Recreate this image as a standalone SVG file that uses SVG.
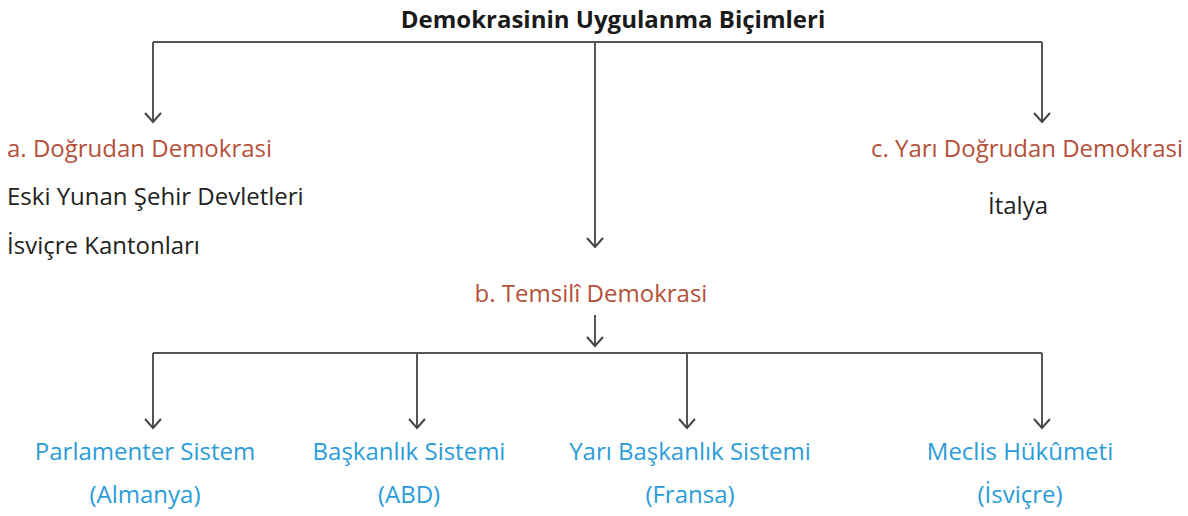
<svg xmlns="http://www.w3.org/2000/svg" width="1188" height="516" viewBox="0 0 1188 516">
<style>
text{font-family:"Open Sans","Liberation Sans",sans-serif;font-size:24px}
.t{font-weight:bold;fill:#1a1a1a;font-size:24px}
.r{fill:#b5503a}
.k{fill:#222}
.b{fill:#2b9cd8}
.c{text-anchor:middle}
.l{fill:none;stroke:#555;stroke-width:2}
</style>
<defs>
<marker id="ah" markerWidth="20" markerHeight="20" refX="10" refY="10" orient="auto" markerUnits="userSpaceOnUse">
<path d="M1,2 L10,10 L1,18" fill="none" stroke="#444" stroke-width="2"/>
</marker>
</defs>
<g id="title"><text class="t c" x="613" y="28">Demokrasinin Uygulanma Biçimleri</text></g>
<g id="nodeA"><text class="r" x="7" y="157">a. Doğrudan Demokrasi</text>
<text class="k" x="7" y="205">Eski Yunan Şehir Devletleri</text>
<text class="k" x="7" y="254">İsviçre Kantonları</text></g>
<g id="nodeC"><text class="r" x="1183" y="157" text-anchor="end">c. Yarı Doğrudan Demokrasi</text>
<text class="k c" x="1018" y="214">İtalya</text></g>
<g id="nodeB"><text class="r c" x="591" y="302">b. Temsilî Demokrasi</text></g>
<g id="n1"><text class="b c" x="145" y="460">Parlamenter Sistem</text><text class="b c" x="145" y="503">(Almanya)</text></g>
<g id="n2"><text class="b c" x="409" y="460">Başkanlık Sistemi</text><text class="b c" x="409" y="503">(ABD)</text></g>
<g id="n3"><text class="b c" x="690" y="460">Yarı Başkanlık Sistemi</text><text class="b c" x="690" y="503">(Fransa)</text></g>
<g id="n4"><text class="b c" x="1020" y="460">Meclis Hükûmeti</text><text class="b c" x="1020" y="503">(İsviçre)</text></g>
<g id="connectors">
<path class="l" d="M153,42 H1042"/>
<path class="l" d="M153,42 V122" marker-end="url(#ah)"/>
<path class="l" d="M1042,42 V122" marker-end="url(#ah)"/>
<path class="l" d="M595,42 V247" marker-end="url(#ah)"/>
<path class="l" d="M595,315 V346" marker-end="url(#ah)"/>
<path class="l" d="M153,353 H1042"/>
<path class="l" d="M153,353 V428" marker-end="url(#ah)"/>
<path class="l" d="M417,353 V428" marker-end="url(#ah)"/>
<path class="l" d="M687,353 V428" marker-end="url(#ah)"/>
<path class="l" d="M1042,353 V428" marker-end="url(#ah)"/>
</g>
</svg>
